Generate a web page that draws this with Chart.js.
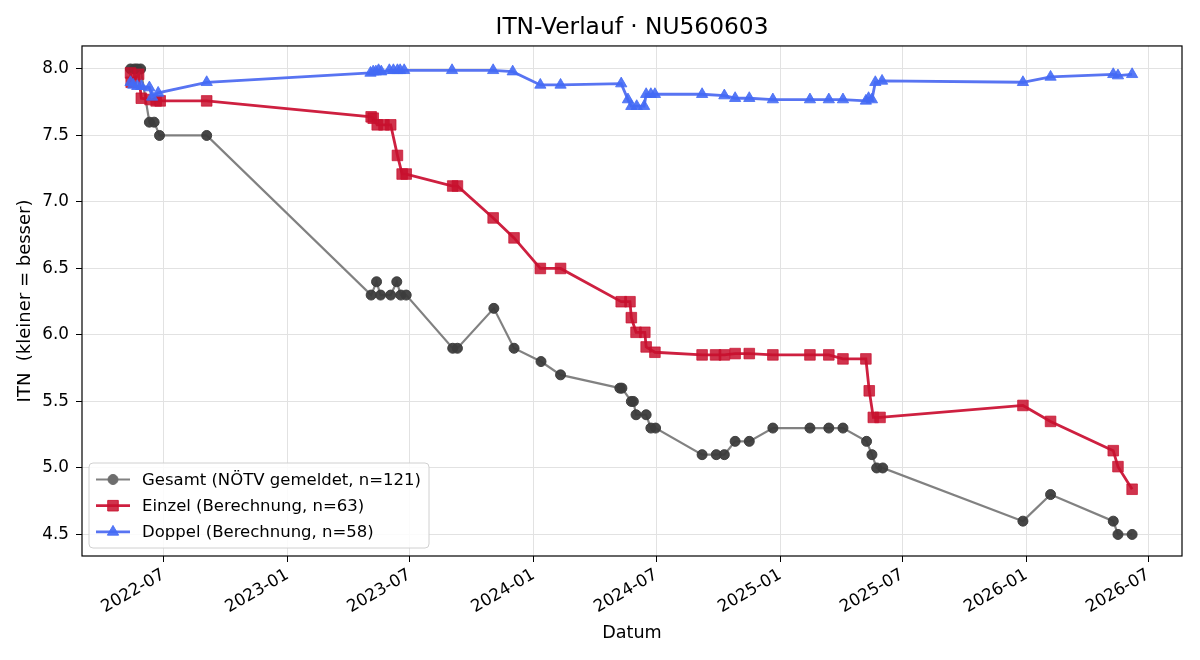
<!DOCTYPE html>
<html>
<head>
<meta charset="utf-8">
<script src="https://cdn.jsdelivr.net/npm/chart.js@4.4.1/dist/chart.umd.min.js"></script>
<style>
  html, body { margin: 0; padding: 0; background: #fff; }
  #wrap { width: 1200px; height: 660px; position: relative; }
</style>
</head>
<body>
<div id="wrap"><canvas id="itnChart" width="1200" height="660"></canvas></div>
<script>
// Daten
const gesamtDates = [
  "2022-05-13", "2022-05-19", "2022-05-23", "2022-05-28", "2022-06-10", "2022-06-17", "2022-06-25", "2022-09-03",
  "2023-05-05", "2023-05-13", "2023-05-19", "2023-06-03", "2023-06-12", "2023-06-18", "2023-06-26",
  "2023-09-03", "2023-09-10", "2023-11-03", "2023-12-03", "2024-01-12", "2024-02-10",
  "2024-05-08", "2024-05-11", "2024-05-25", "2024-05-28", "2024-06-01", "2024-06-16", "2024-06-23", "2024-06-30",
  "2024-09-07", "2024-09-28", "2024-10-10", "2024-10-26", "2024-11-16", "2024-12-21",
  "2025-02-14", "2025-03-14", "2025-04-04", "2025-05-09", "2025-05-17", "2025-05-24", "2025-06-02",
  "2025-12-27", "2026-02-06", "2026-05-10", "2026-05-17", "2026-06-07"
];
const gesamtValues = [
  8.0, 8.0, 8.0, 8.0, 7.6, 7.6, 7.5, 7.5,
  6.3, 6.4, 6.3, 6.3, 6.4, 6.3, 6.3,
  5.9, 5.9, 6.2, 5.9, 5.8, 5.7,
  5.6, 5.6, 5.5, 5.5, 5.4, 5.4, 5.3, 5.3,
  5.1, 5.1, 5.1, 5.2, 5.2, 5.3,
  5.3, 5.3, 5.3, 5.2, 5.1, 5.0, 5.0,
  4.6, 4.8, 4.6, 4.5, 4.5
];

const einzelDates = [
  "2022-05-13", "2022-05-14", "2022-05-25", "2022-05-29", "2022-06-11", "2022-06-20", "2022-06-26", "2022-09-03",
  "2023-05-05", "2023-05-08", "2023-05-14", "2023-05-24", "2023-06-03", "2023-06-13", "2023-06-20", "2023-06-26",
  "2023-09-03", "2023-09-10", "2023-11-02", "2023-12-03", "2024-01-11", "2024-02-10",
  "2024-05-10", "2024-05-23", "2024-05-25", "2024-06-01", "2024-06-14", "2024-06-16", "2024-06-29",
  "2024-09-07", "2024-09-27", "2024-10-10", "2024-10-26", "2024-11-16", "2024-12-21",
  "2025-02-14", "2025-03-14", "2025-04-04", "2025-05-08", "2025-05-13", "2025-05-19", "2025-05-29",
  "2025-12-27", "2026-02-06", "2026-05-10", "2026-05-17", "2026-06-07"
];
const einzelValues = [
  7.97, 7.90, 7.96, 7.78, 7.77, 7.76, 7.76, 7.76,
  7.64, 7.63, 7.58, 7.58, 7.58, 7.35, 7.21, 7.21,
  7.12, 7.12, 6.88, 6.73, 6.50, 6.50,
  6.25, 6.25, 6.13, 6.02, 6.02, 5.91, 5.87,
  5.85, 5.85, 5.85, 5.86, 5.86, 5.85,
  5.85, 5.85, 5.82, 5.82, 5.58, 5.38, 5.38,
  5.47, 5.35, 5.13, 5.01, 4.84
];

const doppelDates = [
  "2022-05-13", "2022-05-17", "2022-05-23", "2022-05-29", "2022-06-10", "2022-06-14", "2022-06-23", "2022-09-03",
  "2023-05-04", "2023-05-08", "2023-05-12", "2023-05-16", "2023-05-20", "2023-06-01", "2023-06-07", "2023-06-13",
  "2023-06-17", "2023-06-23", "2023-09-02", "2023-11-02", "2023-12-01", "2024-01-11", "2024-02-10",
  "2024-05-10", "2024-05-20", "2024-05-25", "2024-06-02", "2024-06-13", "2024-06-16", "2024-06-23", "2024-06-29",
  "2024-09-07", "2024-10-10", "2024-10-26", "2024-11-16", "2024-12-21",
  "2025-02-14", "2025-03-14", "2025-04-04", "2025-05-08", "2025-05-12", "2025-05-17", "2025-05-22", "2025-06-01",
  "2025-12-27", "2026-02-06", "2026-05-10", "2026-05-17", "2026-06-07"
];
const doppelValues = [
  7.90, 7.88, 7.87, 7.87, 7.86, 7.79, 7.82, 7.90,
  7.97, 7.98, 7.98, 7.99, 7.98, 7.99, 7.99, 7.99,
  7.99, 7.99, 7.99, 7.99, 7.98, 7.88, 7.88,
  7.89, 7.77, 7.72, 7.72, 7.72, 7.81, 7.81, 7.81,
  7.81, 7.80, 7.78, 7.78, 7.77,
  7.77, 7.77, 7.77, 7.76, 7.78, 7.77, 7.90, 7.91,
  7.90, 7.94, 7.96, 7.95, 7.96
];

const xTickDates = ["2022-07-01", "2023-01-01", "2023-07-01", "2024-01-01", "2024-07-01",
  "2025-01-01", "2025-07-01", "2026-01-01", "2026-07-01"];
const yTicks = [4.5, 5.0, 5.5, 6.0, 6.5, 7.0, 7.5, 8.0];

const xMin = Date.parse("2022-03-02");
const xMax = Date.parse("2026-08-20");
const yMin = 4.338;
const yMax = 8.173;

const FONT = "'DejaVu Sans', sans-serif";

function toPoints(dates, values) {
  return dates.map((d, i) => ({ x: Date.parse(d), y: values[i] }));
}

// Rahmen um die Plotfläche
const framePlugin = {
  id: "frame",
  afterDatasetsDraw(chart) {
    const a = chart.chartArea;
    const ctx = chart.ctx;
    ctx.save();
    ctx.strokeStyle = "#000";
    ctx.lineWidth = 1.2;
    ctx.strokeRect(a.left, a.top, a.right - a.left, a.bottom - a.top);
    ctx.restore();
  },
};

// Legende unten links im Diagramm
const legendBoxPlugin = {
  id: "legendBox",
  afterDraw(chart) {
    const ctx = chart.ctx;
    const a = chart.chartArea;
    const bx = a.left + 7, by = a.bottom - 93, bw = 340, bh = 85;
    ctx.save();
    ctx.beginPath();
    ctx.roundRect(bx, by, bw, bh, 4);
    ctx.fillStyle = "rgba(255,255,255,0.85)";
    ctx.fill();
    ctx.strokeStyle = "#d0d0d0";
    ctx.lineWidth = 1;
    ctx.stroke();
    const order = [0, 1, 2];
    order.forEach((di, row) => {
      const ds = chart.data.datasets[di];
      const y = by + 16.5 + row * 26.2;
      ctx.strokeStyle = ds.legendLine;
      ctx.lineWidth = ds.borderWidth;
      ctx.beginPath();
      ctx.moveTo(bx + 7, y);
      ctx.lineTo(bx + 41, y);
      ctx.stroke();
      ctx.fillStyle = ds.legendMarker;
      ctx.strokeStyle = ds.legendMarker;
      ctx.lineWidth = 1;
      Chart.helpers.drawPoint(ctx, {
        pointStyle: ds.pointStyle,
        radius: ds.pointRadius,
        borderWidth: 1,
        rotation: 0,
      }, bx + 24, y);
      ctx.fillStyle = "#000";
      ctx.font = "16.5px " + FONT;
      ctx.textBaseline = "middle";
      ctx.textAlign = "left";
      ctx.fillText(ds.label, bx + 53, y + 1);
    });
    ctx.restore();
  },
};

let ctx = document.getElementById("itnChart").getContext("2d");
let data = {
  datasets: [
    {
      label: "Gesamt (NÖTV gemeldet, n=121)",
      data: toPoints(gesamtDates, gesamtValues),
      borderColor: "rgba(115,115,115,0.9)",
      backgroundColor: "rgba(60,60,60,0.95)",
      pointBorderColor: "rgba(60,60,60,0.95)",
      legendLine: "rgba(115,115,115,0.9)",
      legendMarker: "#6d6d6d",
      borderWidth: 2.2,
      pointStyle: "circle",
      pointRadius: 5,
      pointBorderWidth: 1,
      order: 3,
    },
    {
      label: "Einzel (Berechnung, n=63)",
      data: toPoints(einzelDates, einzelValues),
      borderColor: "rgb(206,32,64)",
      backgroundColor: "rgba(200,16,46,0.85)",
      pointBorderColor: "rgba(200,16,46,0.7)",
      legendLine: "rgb(206,32,64)",
      legendMarker: "rgba(200,16,46,0.85)",
      borderWidth: 2.8,
      pointStyle: "rect",
      pointRadius: 7.5,
      pointBorderWidth: 1,
      order: 2,
    },
    {
      label: "Doppel (Berechnung, n=58)",
      data: toPoints(doppelDates, doppelValues),
      borderColor: "rgb(88,116,242)",
      backgroundColor: "rgba(68,106,245,0.9)",
      pointBorderColor: "rgba(68,106,245,0.8)",
      legendLine: "rgb(88,116,242)",
      legendMarker: "rgba(68,106,245,0.9)",
      borderWidth: 2.8,
      pointStyle: "triangle",
      pointRadius: 6.5,
      pointBorderWidth: 1,
      order: 1,
    },
  ],
};
let options = {
  responsive: false,
  animation: false,
  layout: { padding: { left: 0, right: 18, top: 0, bottom: 0 } },
  elements: { line: { tension: 0 } },
  scales: {
    x: {
      type: "linear",
      min: xMin,
      max: xMax,
      afterBuildTicks: (scale) => {
        scale.ticks = xTickDates.map((d) => ({ value: Date.parse(d) }));
      },
      afterFit: (scale) => { scale.height = 104; },
      grid: { color: "#e2e2e2", lineWidth: 1, tickColor: "#000", tickLength: 6, tickWidth: 1 },
      border: { display: false },
      ticks: {
        autoSkip: false,
        minRotation: 30,
        maxRotation: 30,
        padding: 3,
        color: "#000",
        font: { family: FONT, size: 16.8 },
        callback: (v) => {
          const d = new Date(v);
          return d.getUTCFullYear() + "-" + String(d.getUTCMonth() + 1).padStart(2, "0");
        },
      },
      title: {
        display: true,
        text: "Datum",
        color: "#000",
        font: { family: FONT, size: 17.6 },
        padding: { top: 4, bottom: 16 },
      },
    },
    y: {
      type: "linear",
      min: yMin,
      max: yMax,
      afterBuildTicks: (scale) => {
        scale.ticks = yTicks.map((v) => ({ value: v }));
      },
      afterFit: (scale) => { scale.width = 82; },
      grid: { color: "#e2e2e2", lineWidth: 1, tickColor: "#000", tickLength: 6, tickWidth: 1 },
      border: { display: false },
      ticks: {
        padding: 7,
        color: "#000",
        font: { family: FONT, size: 16.8 },
        callback: (v) => v.toFixed(1),
      },
      title: {
        display: true,
        text: "ITN  (kleiner = besser)",
        color: "#000",
        font: { family: FONT, size: 18 },
        padding: { top: 15, bottom: 4 },
      },
    },
  },
  plugins: {
    legend: { display: false },
    tooltip: { enabled: false },
    title: {
      display: true,
      fullSize: false,
      text: "ITN-Verlauf · NU560603",
      color: "#000",
      font: { family: FONT, size: 23.3, weight: "normal" },
      padding: { top: 14, bottom: 4 },
    },
  },
};
let itnChart = new Chart(ctx, {
  type: "line",
  data: data,
  options: options,
  plugins: [framePlugin, legendBoxPlugin],
});
</script>
</body>
</html>
